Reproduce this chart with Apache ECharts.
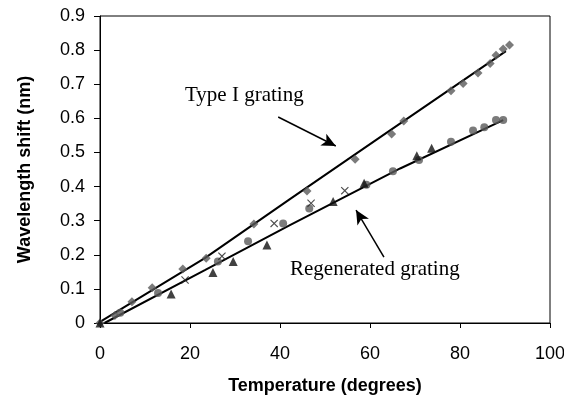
<!DOCTYPE html>
<html>
<head>
<meta charset="utf-8">
<script src="https://cdn.jsdelivr.net/npm/echarts@6/dist/echarts.min.js"></script>
<style>
html,body{margin:0;padding:0;background:#fff;}
#chart{width:564px;height:395px;}
</style>
</head>
<body>
<div id="chart"></div>
<script>
// Type I grating (diamonds)
var typeI_x = [0, 3.3, 7.1, 11.6, 18.4, 23.6, 34.2, 46, 56.7, 64.8, 67.5, 78, 80.7, 84, 86.7, 88, 89.6, 91];
var typeI_y = [0, 0.022, 0.062, 0.103, 0.158, 0.19, 0.29, 0.387, 0.48, 0.554, 0.592, 0.681, 0.702, 0.733, 0.761, 0.785, 0.803, 0.815];
// Regenerated grating, run with circles
var regenC_x = [4.5, 12.9, 26.2, 32.9, 40.7, 46.5, 59.2, 65.1, 70.9, 78, 82.9, 85.4, 88, 89.6];
var regenC_y = [0.03, 0.088, 0.18, 0.24, 0.292, 0.336, 0.405, 0.445, 0.478, 0.531, 0.564, 0.574, 0.595, 0.595];
// Regenerated grating, run with triangles
var regenT_x = [0, 15.8, 25.1, 29.6, 37.1, 51.8, 58.7, 70.4, 73.7];
var regenT_y = [0, 0.085, 0.148, 0.18, 0.229, 0.356, 0.41, 0.49, 0.512];
// Regenerated grating, run with crosses
var regenX_x = [18.9, 27.1, 38.7, 46.9, 54.4];
var regenX_y = [0.126, 0.196, 0.292, 0.351, 0.388];
// Fitted lines
var fitI_x = [0, 23.3, 42.2, 61.3, 90.2];
var fitI_y = [0.003, 0.19, 0.363, 0.536, 0.797];
var fitR_x = [1, 23.3, 42.2, 66.7, 89.6];
var fitR_y = [0, 0.155, 0.287, 0.453, 0.595];
// Axis ticks
var xTicks = [0, 20, 40, 60, 80, 100];
var yTicks = [0, 0.1, 0.2, 0.3, 0.4, 0.5, 0.6, 0.7, 0.8, 0.9];
// Annotations
var annI = {text: 'Type I grating', from: [39.6, 0.604], to: [52.4, 0.519]};
var annR = {text: 'Regenerated grating', from: [63.1, 0.193], to: [56.9, 0.331]};

function pairs(xs, ys){ return xs.map(function(x,i){ return [x, ys[i]]; }); }

var crossPath = 'path://M0,1 L1,0 L5,4 L9,0 L10,1 L6,5 L10,9 L9,10 L5,6 L1,10 L0,9 L4,5 Z';

var chart = echarts.init(document.getElementById('chart'), null, {renderer:'canvas'});
var option = {
  animation: false,
  backgroundColor: '#fff',
  grid: {left: 100, right: 14, top: 16, bottom: 72, containLabel: false, outerBoundsMode: 'none',
         show: true, borderColor: '#000', borderWidth: 1, backgroundColor: 'transparent'},
  xAxis: {
    type: 'value', min: xTicks[0], max: xTicks[xTicks.length-1], interval: 20,
    name: 'Temperature (degrees)', nameLocation: 'middle', nameGap: 54,
    nameTextStyle: {fontFamily: 'Liberation Sans', fontWeight: 'bold', fontSize: 18, color: '#000'},
    axisLine: {lineStyle: {color: '#000', width: 1}},
    axisTick: {show: true, inside: false, length: 5, lineStyle: {color: '#000'}},
    axisLabel: {fontFamily: 'Liberation Sans', fontSize: 18, color: '#000', margin: 22},
    splitLine: {show: false}
  },
  yAxis: {
    type: 'value', min: yTicks[0], max: yTicks[yTicks.length-1], interval: 0.1,
    name: 'Wavelength shift (nm)', nameLocation: 'middle', nameGap: 66,
    nameTextStyle: {fontFamily: 'Liberation Sans', fontWeight: 'bold', fontSize: 18, color: '#000'},
    axisLine: {lineStyle: {color: '#000', width: 1}},
    axisTick: {show: true, inside: false, length: 6, lineStyle: {color: '#000'}},
    axisLabel: {fontFamily: 'Liberation Sans', fontSize: 18, color: '#000', margin: 15,
      formatter: function(v){ return v === 0 ? '0' : v.toFixed(1); }},
    splitLine: {show: false}
  },
  series: [
    {type: 'line', data: pairs(fitI_x, fitI_y), showSymbol: false, symbol: 'none', lineStyle: {color: '#000', width: 2}, z: 3,
     markLine: {silent: true, symbol: ['none', 'arrow'], symbolSize: [10, 14], label: {show: false},
       lineStyle: {color: '#000', width: 1.5, type: 'solid'},
       data: [[{coord: annI.from}, {coord: annI.to}], [{coord: annR.from}, {coord: annR.to}]]}},
    {type: 'line', data: pairs(fitR_x, fitR_y), showSymbol: false, symbol: 'none', lineStyle: {color: '#000', width: 2}, z: 3},
    {type: 'scatter', data: pairs(typeI_x, typeI_y), symbol: 'diamond', symbolSize: 9, itemStyle: {color: '#5a5a5a'}, z: 4},
    {type: 'scatter', data: pairs(regenC_x, regenC_y), symbol: 'circle', symbolSize: 8, itemStyle: {color: '#5a5a5a'}, z: 4},
    {type: 'scatter', data: pairs(regenT_x, regenT_y), symbol: 'triangle', symbolSize: 9, itemStyle: {color: '#111'}, z: 4},
    {type: 'scatter', data: pairs(regenX_x, regenX_y), symbol: crossPath, symbolSize: 8, itemStyle: {color: '#222'}, z: 4}
  ],
  graphic: [
    {type: 'text', left: 185, top: 85, style: {text: annI.text, font: '21px "Liberation Serif"', fill: '#000'}},
    {type: 'text', left: 290, top: 259, style: {text: annR.text, font: '21px "Liberation Serif"', fill: '#000'}}
  ]
};
chart.setOption(option);
</script>
</body>
</html>
